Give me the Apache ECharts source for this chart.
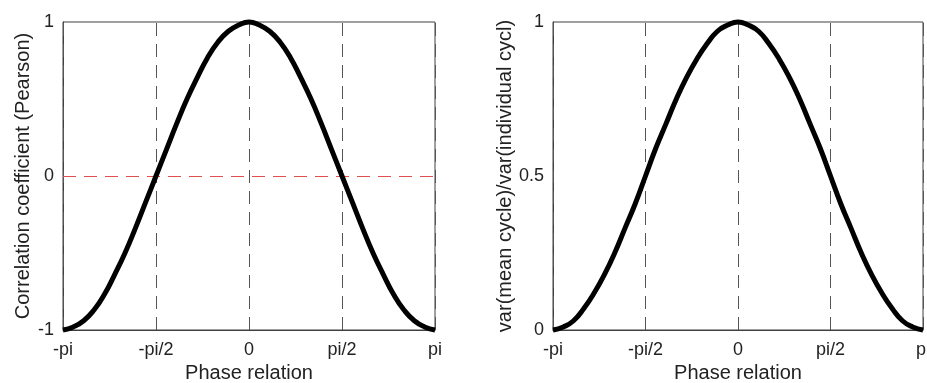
<!DOCTYPE html>
<html>
<head>
<meta charset="utf-8">
<script src="https://cdn.jsdelivr.net/npm/echarts@6/dist/echarts.min.js"></script>
<style>
  html, body { margin: 0; padding: 0; background: #fff; }
  #container { width: 927px; height: 383px; }
</style>
</head>
<body>
<div id="container"></div>
<script>
// phase relation in degrees, read every 10 degrees
const phase = [-180, -170, -160, -150, -140, -130, -120, -110, -100, -90,
  -80, -70, -60, -50, -40, -30, -20, -10, 0,
  10, 20, 30, 40, 50, 60, 70, 80, 90,
  100, 110, 120, 130, 140, 150, 160, 170, 180];
const correlation = [-1, -0.98, -0.94, -0.87, -0.77, -0.64, -0.5, -0.34, -0.17, 0,
  0.17, 0.34, 0.5, 0.64, 0.77, 0.87, 0.94, 0.98, 1,
  0.98, 0.94, 0.87, 0.77, 0.64, 0.5, 0.34, 0.17, 0,
  -0.17, -0.34, -0.5, -0.64, -0.77, -0.87, -0.94, -0.98, -1];
const varianceRatio = [0, 0.01, 0.03, 0.07, 0.12, 0.18, 0.25, 0.33, 0.41, 0.5,
  0.59, 0.67, 0.75, 0.82, 0.88, 0.93, 0.97, 0.99, 1,
  0.99, 0.97, 0.93, 0.88, 0.82, 0.75, 0.67, 0.59, 0.5,
  0.41, 0.33, 0.25, 0.18, 0.12, 0.07, 0.03, 0.01, 0];
const phaseTicks = [-180, -90, 0, 90, 180];
const phaseLabels = ["-pi", "-pi/2", "0", "pi/2", "pi"];

const font = "'Liberation Sans', Arial, Helvetica, sans-serif";
const axisColor = "#404040";

const myChart = echarts.init(document.getElementById("container"), null, {
  renderer: "canvas",
});

function phaseLabel(v) {
  const i = phaseTicks.indexOf(Math.round(v));
  return i >= 0 ? phaseLabels[i] : "";
}

function xAxisFor(gridIndex) {
  return {
    gridIndex: gridIndex,
    type: "value",
    min: -180,
    max: 180,
    interval: 90,
    name: "Phase relation",
    nameLocation: "middle",
    nameGap: 31,
    nameTextStyle: { fontFamily: font, fontSize: 20, color: "#222" },
    axisLine: { show: true, onZero: false, lineStyle: { color: axisColor, width: 1 } },
    axisTick: { show: false },
    splitLine: { show: false },
    axisLabel: {
      fontFamily: font,
      fontSize: 18,
      color: "#222",
      margin: 11,
      formatter: phaseLabel,
    },
  };
}

function yAxisFor(gridIndex, min, max, interval, name, gap) {
  return {
    gridIndex: gridIndex,
    type: "value",
    min: min,
    max: max,
    interval: interval,
    name: name,
    nameLocation: "middle",
    nameGap: gap,
    nameTextStyle: { fontFamily: font, fontSize: 20, color: "#222" },
    axisLine: { show: true, onZero: false, lineStyle: { color: axisColor, width: 1 } },
    axisTick: { show: false },
    splitLine: { show: false },
    axisLabel: { fontFamily: font, fontSize: 18, color: "#222", margin: 9 },
  };
}

const dashStyle = { color: "#555", type: [13, 8], width: 1 };

function curve(gridIndex, values, redZero) {
  const lineData = phaseTicks.map((v) => ({ xAxis: v }));
  if (redZero) {
    lineData.push({
      yAxis: 0,
      lineStyle: { color: "#e0504f", type: [13, 8], width: 1 },
    });
  }
  return {
    type: "line",
    xAxisIndex: gridIndex,
    yAxisIndex: gridIndex,
    data: phase.map((p, i) => [p, values[i]]),
    smooth: true,
    showSymbol: false,
    clip: false,
    lineStyle: { color: "#000", width: 5 },
    z: 3,
    markLine: {
      silent: true,
      symbol: "none",
      label: { show: false },
      lineStyle: dashStyle,
      z: 1,
      data: lineData,
    },
  };
}

const option = {
  animation: false,
  backgroundColor: "#fff",
  grid: [
    { left: 63, top: 22, width: 372, height: 308, show: true,
      borderColor: axisColor, borderWidth: 1, outerBoundsMode: "none" },
    { left: 553, top: 22, width: 370, height: 308, show: true,
      borderColor: axisColor, borderWidth: 1, outerBoundsMode: "none" },
  ],
  xAxis: [xAxisFor(0), xAxisFor(1)],
  yAxis: [
    yAxisFor(0, -1, 1, 1, "Correlation coefficient (Pearson)", 30),
    yAxisFor(1, 0, 1, 0.5, "var(mean cycle)/var(individual cycl)", 38),
  ],
  series: [curve(0, correlation, true), curve(1, varianceRatio, false)],
};

myChart.setOption(option);
window.addEventListener("resize", myChart.resize);
</script>
</body>
</html>
